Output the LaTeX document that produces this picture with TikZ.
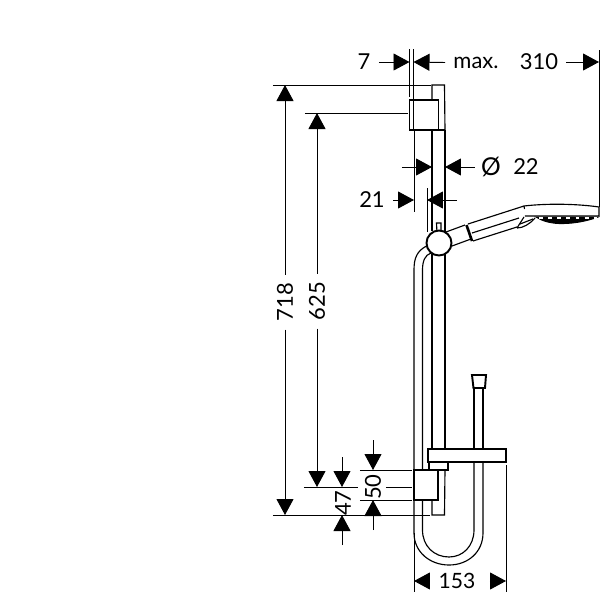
\documentclass[tikz,border=0pt]{standalone}
\usepackage{fontspec}
\setmainfont{Lato}
\usetikzlibrary{arrows.meta}
\begin{document}
\begin{tikzpicture}[x=0.02cm, y=-0.02cm, line width=0.55pt, every node/.style={font=\fontsize{12.5}{15}\selectfont, inner sep=1pt}]
    % Styles
    \tikzstyle{tip} = [-{Triangle[length=0.32cm, width=0.34cm]}]
    \tikzstyle{label} = [inner sep=4.5pt]
    \tikzstyle{part} = [line width=0.65pt]
    \tikzstyle{heavy} = [line width=1.1pt]
    \useasboundingbox (0,0) rectangle (600,600);

    % Dimension labels
    \node (seven) [label] at (364,62) {7};
    \node (maxi)  [label] at (476,63) {max.};
    \node (reach) [label] at (539,62) {310};
    \node (dsign) [font=\fontsize{14}{15}\selectfont] at (491,167) {Ø};
    \node (dia)   at (526,167) {22};
    \node (off)   [label] at (372,200) {21};
    \node (high)  [label, rotate=90] at (285,302) {718};
    \node (mount) [label, rotate=90] at (317,301) {625};
    \node (low)   [rotate=90] at (343,503) {47};
    \node (bar)   [rotate=90] at (373,487) {50};
    \node (wide)  [font=\fontsize{12}{15}\selectfont] at (457,581) {153};

    % Dimension coordinates
    \coordinate (tsevenl) at (409.5,62);
    \coordinate (tsevenr) at (413.5,62);
    \coordinate (treach) at (599,62);
    \coordinate (tdial) at (432,167);
    \coordinate (tdialt) at (402,167);
    \coordinate (tdiar) at (445,167);
    \coordinate (tdiart) at (475,167);
    \coordinate (toffl) at (414,200);
    \coordinate (toffr) at (427,200);
    \coordinate (toffrt) at (457,200);
    \coordinate (thight) at (285,85);
    \coordinate (thighb) at (285,515);
    \coordinate (tmountt) at (317,113);
    \coordinate (tmountb) at (317,487);
    \coordinate (tlowt) at (342,487);
    \coordinate (tlowtt) at (342,457);
    \coordinate (tlowb) at (342,515);
    \coordinate (tlowbt) at (342,545);
    \coordinate (tbart) at (373,470);
    \coordinate (tbartt) at (373,440);
    \coordinate (tbarb) at (373,500);
    \coordinate (tbarbt) at (373,530);
    \coordinate (twidel) at (414,581);
    \coordinate (twidelt) at (429,581);
    \coordinate (twider) at (506,581);
    \coordinate (twidert) at (490,581);

    % Arrows
    \draw [tip] (seven) -- (tsevenl);
    \draw [tip] (maxi) -- (tsevenr);
    \draw [tip] (reach) -- (treach);
    \draw [tip] (tdialt) -- (tdial);
    \draw [tip] (tdiart) -- (tdiar);
    \draw [tip] (off) -- (toffl);
    \draw [tip] (toffrt) -- (toffr);
    \draw [tip] (high) -- (thight);
    \draw [tip] (high) -- (thighb);
    \draw [tip] (mount) -- (tmountt);
    \draw [tip] (mount) -- (tmountb);
    \draw [tip] (tlowtt) -- (tlowt);
    \draw [tip] (tlowbt) -- (tlowb);
    \draw [tip] (tbartt) -- (tbart);
    \draw [tip] (tbarbt) -- (tbarb);
    \draw [tip] (twidelt) -- (twidel);
    \draw [tip] (twidert) -- (twider);

    % Extension lines
    \draw (409.5,49) -- (409.5,97);
    \draw (413.5,49) -- (413.5,100);
    \draw (599,50) -- (599,207);
    \draw (273,85) -- (431,85);
    \draw (305,113) -- (408,113);
    \draw (414,130) -- (414,212);
    \draw (427,188) -- (427,232);
    \draw (273,515) -- (430,515);
    \draw (304,487) -- (358,487);
    \draw (386,487) -- (412,487);
    \draw (360,470) -- (412,470);
    \draw (360,500) -- (412,500);
    \draw (414,533) -- (414,592);
    \draw (506,465) -- (506,592);

    % Wall mount and rail
    \draw [part] (432,100) -- (432,85) -- (444.5,85) -- (445,130);
    \draw [part] (409.5,100) rectangle (438.5,130);
    \draw [heavy] (413.5,100) -- (413.5,130);
    \draw [heavy] (432,130) -- (445,130);
    \draw [part] (432,130) -- (432,231);
    \draw [part] (445,130) -- (445,449);
    \draw [part] (432,254) -- (432,449);

    % Hose
    \draw [part] (426.5,246) .. controls (417,251) and (414,258) .. (414,270) -- (414,470);
    \draw [part] (431,253) .. controls (425,255) and (422.5,261) .. (422.5,270) -- (422.5,470);
    \draw [part] (414,500) -- (414,533) .. controls (414,552) and (430,565) .. (449,565) .. controls (468,565) and (483,552) .. (483,533) -- (483,462);
    \draw [part] (422.5,500) -- (422.5,530) .. controls (422.5,546) and (434,557) .. (449,557) .. controls (463,557) and (474,546) .. (474,530) -- (474,462);
    \draw [part] (474,449) -- (474,388);
    \draw [part] (483,449) -- (483,388);
    \draw [heavy, fill=white] (472,375) -- (486,375) -- (485,388) -- (473.5,388) -- cycle;

    % Handle and head
    \draw [part] (446,232) -- (465,225);
    \draw [part] (452,246) -- (471,239);
    \draw [part] (468,224) -- (524,206);
    \draw [part] (472,233) -- (519,218);
    \draw [part] (473,241) -- (517,227);
    \draw [line width=1.5pt] (466.5,225) -- (472,241);
    \draw [part] (524,206) .. controls (545,203.5) and (575,203.5) .. (599,207) -- (599,216) -- (525,216);
    \draw [part] (524,206) -- (524.5,209);
    \draw [part] (524,217) -- (517,228);
    \draw [part] (517,228) .. controls (523,228) and (530,224) .. (535,218);
    \draw [part] (520,224) -- (533,219);
    \draw [fill=black] (536,217) -- (598,217) .. controls (585,222) and (570,224) .. (558,223.5) .. controls (550,223) and (542,221) .. (536,217) -- cycle;
    \draw [white, line width=0.9pt, dash pattern=on 2.2pt off 3pt] (539,218) -- (597,218);

    % Ball joint
    \draw [part, fill=white] (437,233) -- (436.5,223) -- (441,223) -- (441,233);
    \draw [heavy, fill=white] (439,243) circle (12.5);

    % Shelf and slider
    \draw [heavy] (428,449) rectangle (506,462);
    \draw [part] (429,462) -- (429,470);
    \draw [heavy] (429,470) -- (448,470) -- (448,462);
    \draw [heavy] (414,470) rectangle (438,500);
    \draw [part] (445,470) -- (444.5,515) -- (432,515) -- (432,500);
\end{tikzpicture}
\end{document}
